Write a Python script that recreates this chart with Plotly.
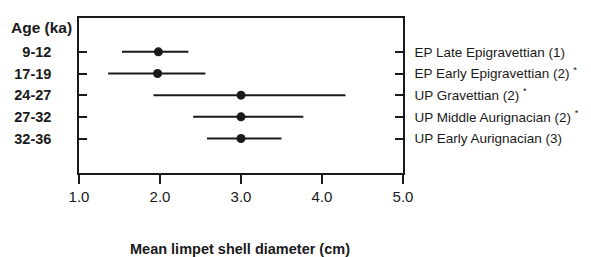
import plotly.graph_objects as go

ages = ["9-12", "17-19", "24-27", "27-32", "32-36"]
periods = ["EP Late Epigravettian (1)", "EP Early Epigravettian (2) <sup>*</sup>",
           "UP Gravettian (2) <sup>*</sup>", "UP Middle Aurignacian (2) <sup>*</sup>",
           "UP Early Aurignacian (3)"]
mean_diam = [1.98, 1.97, 3.0, 3.0, 3.0]
low = [1.53, 1.36, 1.92, 2.41, 2.58]
high = [2.35, 2.56, 4.29, 3.77, 3.50]
x_ticks = [1.0, 2.0, 3.0, 4.0, 5.0]
x_tick_text = ["1.0", "2.0", "3.0", "4.0", "5.0"]

rows = list(range(len(ages)))
plus = [h - m for h, m in zip(high, mean_diam)]
minus = [m - l for m, l in zip(mean_diam, low)]

ink = "#1a1a1a"
fig = go.Figure()
fig.add_trace(go.Scatter(
    x=mean_diam, y=rows, mode="markers",
    marker=dict(size=9, color=ink),
    error_x=dict(type="data", symmetric=False, array=plus, arrayminus=minus,
                 width=0, thickness=2, color=ink),
    showlegend=False, hoverinfo="skip"))
fig.add_trace(go.Scatter(
    x=mean_diam, y=rows, yaxis="y2", mode="markers",
    marker=dict(size=1, color="rgba(0,0,0,0)"),
    showlegend=False, hoverinfo="skip"))

font = "Liberation Sans, Arial, sans-serif"
yr = [5.59, -1.56]
# page body has an 8px margin, so the figure is 8px smaller and margins are offset
fig.update_layout(
    width=583, height=249,
    margin=dict(l=71, r=188, t=10, b=84),
    paper_bgcolor="white", plot_bgcolor="white",
    font=dict(family=font, color=ink),
    xaxis=dict(range=[1.0, 5.0], tickvals=x_ticks, ticktext=x_tick_text,
               automargin=False,
               showgrid=False, zeroline=False, showline=True, linecolor=ink,
               linewidth=1.5, mirror=True, ticks="outside", ticklen=9,
               tickwidth=1.5, tickcolor=ink,
               tickfont=dict(size=15, family=font, color=ink)),
    yaxis=dict(range=yr, tickvals=rows, ticktext=["<b>%s</b>" % a for a in ages],
               automargin=False,
               showgrid=False, zeroline=False, showline=True, linecolor=ink,
               linewidth=1.5, ticks="inside", ticklen=8, tickwidth=1.5, tickcolor=ink,
               tickfont=dict(size=14.5, family=font, color=ink), ticklabelstandoff=23),
    yaxis2=dict(range=yr, tickvals=rows, ticktext=periods, overlaying="y", side="right",
                automargin=False,
                showgrid=False, zeroline=False, showline=True, linecolor=ink,
                linewidth=1.5, ticks="inside", ticklen=8, tickwidth=1.5, tickcolor=ink,
                tickfont=dict(size=13.5, family=font, color=ink), ticklabelstandoff=7),
    annotations=[
        dict(text="<b>Age (ka)</b>", xref="paper", yref="paper",
             x=0.0, y=1.0, xanchor="right", yanchor="middle",
             xshift=-5, yshift=-9, showarrow=False,
             font=dict(size=15.5, family=font, color=ink)),
        dict(text="<b>Mean limpet shell diameter (cm)</b>", xref="paper", yref="paper",
             x=0.497, y=0.0, xanchor="center", yanchor="middle",
             yshift=-76, showarrow=False,
             font=dict(size=14.5, family=font, color=ink)),
    ],
)
fig.write_html("out.html")
